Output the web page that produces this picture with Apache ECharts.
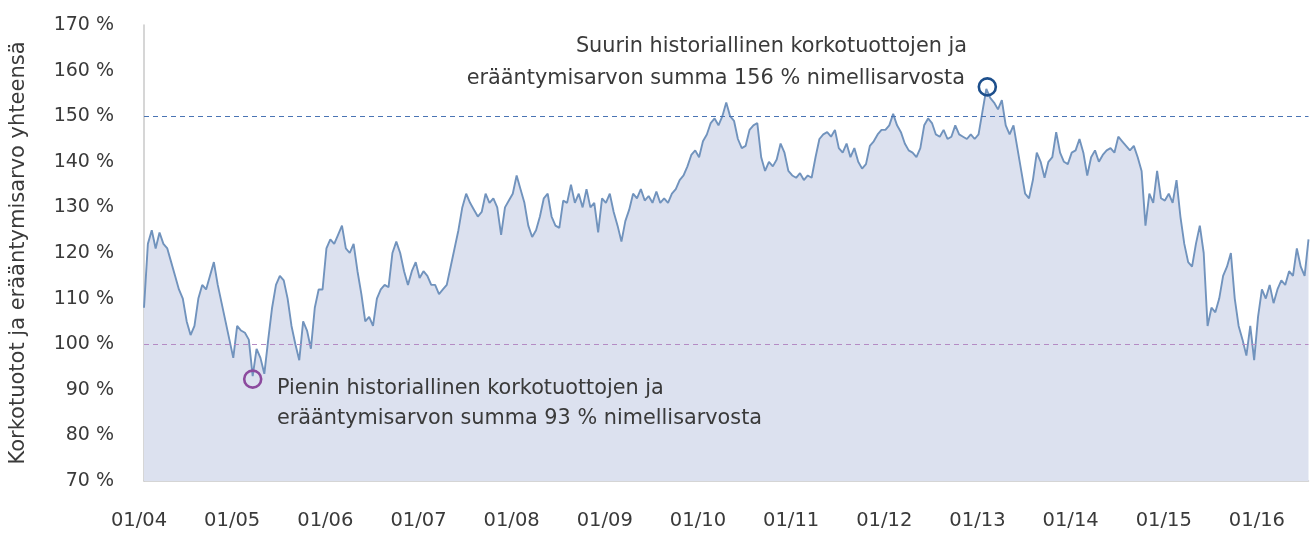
<!DOCTYPE html>
<html>
<head>
<meta charset="utf-8">
<script src="https://cdn.jsdelivr.net/npm/echarts@6/dist/echarts.min.js"></script>
<style>
html,body{margin:0;padding:0;background:#fff;}
#chart{width:1312px;height:534px;}
</style>
</head>
<body>
<div id="chart"></div>
<script>
// Semi-monthly observations, Jan 2004 .. Jul 2016 (value in % of nominal)
const startYear = 2004;
const yearTickLabels = ['01/04','01/05','01/06','01/07','01/08','01/09','01/10','01/11','01/12','01/13','01/14','01/15','01/16'];
const yTicks = [70, 80, 90, 100, 110, 120, 130, 140, 150, 160, 170];

const values2004 = [108,122,125,121,124.5,122,121,118,115,112,110,105,102,104,110,113,112,115,118,113,109,105,101,97];
const values2005 = [104,103,102.5,101,93,99,97,93.5,101,108,113,115,114,110,104,100,96.5,105,103,99,108,112,112,121];
const values2006 = [123,122,124,126,121,120,122,116,111,105,106,104,110,112,113,112.5,120,122.5,120,116,113,116,118,114.5];
const values2007 = [116,115,113,113,111,112,113,117,121,125,130,133,131,129.5,128,129,133,131,132,130,124,130,131.5,133];
const values2008 = [137,134,131,126,123.5,125,128,132,133,128,126,125.5,131.5,131,135,131,133,130,134,130,131,124.5,132,131];
const values2009 = [133,129,126,122.5,127,129.5,133,132,134,131.5,132.5,131,133.5,131,132,131,133,134,136,137,139,141.5,142.5,141];
const values2010 = [144.5,146,148.5,149.5,148,150,153,150,149,145,143,143.5,147,148,148.5,141,138,140,139,140.5,144,142,138,137];
const values2011 = [136.5,137.5,136,137,136.5,141,145,146,146.5,145.5,147,143,142,144,141,143,140,138.5,139.5,143.5,144.5,146,147,147];
const values2012 = [148,150.5,148,146.5,144,142.5,142,141,143,148,149.5,148.5,146,145.5,147,145,145.5,148,146,145.5,145,146,145,146];
const values2013 = [151,156,154,153,151.5,153.5,148,146,148,143,138,133,132,136,142,140,136.5,140,141,146.5,142,140,139.5,142];
const values2014 = [142.5,145,142,137,141,142.5,140,141.5,142.5,143,142,145.5,144.5,143.5,142.5,143.5,141,138,126,133,131,138,132,131.5];
const values2015 = [133,131,136,128,122,118,117,122,126,120,104,108,107,110,115,117,120,110,104,101,97.5,104,96.5,106];
const values2016 = [112,110,113,109,112,114,113,116,115,121,117,115,123];

const refLines = [
  {value: 150, color: '#4a74b4'},
  {value: 100, color: '#b58bc4'}
];
const extremes = [
  {label: 'Suurin', index: 217, value: 156, color: '#1d4f8c'},
  {label: 'Pienin', index: 28, value: 93, color: '#8c4a9e'}
];
const yAxisTitle = 'Korkotuotot ja erääntymisarvo yhteensä';
const maxText = ['Suurin historiallinen korkotuottojen ja', 'erääntymisarvon summa 156 % nimellisarvosta'];
const minText = ['Pienin historiallinen korkotuottojen ja', 'erääntymisarvon summa 93 % nimellisarvosta'];

const values = [].concat(values2004, values2005, values2006, values2007, values2008, values2009,
  values2010, values2011, values2012, values2013, values2014, values2015, values2016);

const categories = [];
for (let i = 0; i < values.length; i++) {
  const y = startYear + Math.floor(i / 24);
  const m = Math.floor((i % 24) / 2) + 1;
  const d = (i % 2) ? 16 : 1;
  categories.push(y + '-' + String(m).padStart(2, '0') + '-' + String(d).padStart(2, '0'));
}

const FONT = '"DejaVu Sans", Verdana, sans-serif';
const TXT = '#3a3a3a';

const chart = echarts.init(document.getElementById('chart'), null, {renderer: 'canvas'});
chart.setOption({
  animation: false,
  grid: {left: 143, right: 3.5, top: 25, bottom: 53, containLabel: false},
  xAxis: {
    type: 'category',
    data: categories,
    boundaryGap: false,
    axisLine: {lineStyle: {color: '#c8c8c8', width: 1.5}},
    axisTick: {show: false},
    axisLabel: {
      interval: function (idx) { return idx % 24 === 0; },
      formatter: function (val, idx) { return yearTickLabels[Math.round(idx / 24)] || ''; },
      color: TXT, fontSize: 19.5, fontFamily: FONT, margin: 30,
      padding: [0, 10, 0, 0]
    },
    splitLine: {show: false}
  },
  yAxis: {
    type: 'value',
    min: yTicks[0], max: yTicks[yTicks.length - 1], interval: 10,
    name: yAxisTitle,
    nameLocation: 'middle',
    nameGap: 115,
    nameTextStyle: {color: TXT, fontSize: 21, fontFamily: FONT},
    axisLine: {show: true, lineStyle: {color: '#c8c8c8', width: 1.5}},
    axisTick: {show: false},
    axisLabel: {formatter: '{value} %', color: TXT, fontSize: 19, fontFamily: FONT, margin: 30},
    splitLine: {show: false}
  },
  series: [{
    type: 'line',
    data: values,
    showSymbol: false,
    symbol: 'none',
    lineStyle: {color: '#7193bd', width: 1.9},
    areaStyle: {color: '#dce1ef', opacity: 1, origin: 'start'},
    markLine: {
      silent: true,
      symbol: 'none',
      label: {show: false},
      data: refLines.map(r => ({yAxis: r.value, lineStyle: {color: r.color, type: [5, 4], width: 1.2}}))
    },
    markPoint: {
      silent: true,
      data: extremes.map((e, k) => ({
        coord: [categories[e.index], e.value],
        symbol: 'circle',
        symbolSize: 17,
        symbolOffset: k === 0 ? [1, -2] : [0, 3],
        itemStyle: {color: 'rgba(0,0,0,0)', borderColor: e.color, borderWidth: 2.6},
        label: {show: false}
      }))
    }
  }],
  graphic: [
    {type: 'text', z: 100, right: 345, top: 36, style: {text: maxText[0], fill: TXT, font: '20.8px ' + FONT, textAlign: 'right'}},
    {type: 'text', z: 100, right: 347, top: 68, style: {text: maxText[1], fill: TXT, font: '20.8px ' + FONT, textAlign: 'right'}},
    {type: 'text', z: 100, left: 277, top: 378, style: {text: minText[0], fill: TXT, font: '20.8px ' + FONT}},
    {type: 'text', z: 100, left: 277, top: 408, style: {text: minText[1], fill: TXT, font: '20.8px ' + FONT}}
  ]
});
</script>
</body>
</html>
